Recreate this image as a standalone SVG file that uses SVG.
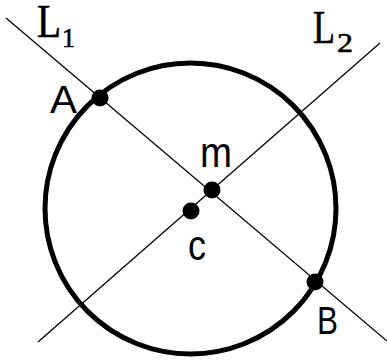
<svg xmlns="http://www.w3.org/2000/svg" width="387" height="362" viewBox="0 0 387 362">
<style>
.line{stroke:#000;stroke-width:1.3;fill:none}
.circ{stroke:#000;stroke-width:5;fill:none}
.dot{fill:#000}
.sans{font-family:"Liberation Sans",Arial,sans-serif;fill:#000}
.serif{font-family:"Liberation Serif","Times New Roman",serif;fill:#000;stroke:#000;stroke-width:0.6}
</style>
<rect width="387" height="362" fill="#fff"/>
<g id="connectors">
<line id="L1-line" class="line" x1="6" y1="18" x2="387" y2="341"/>
<line id="L2-line" class="line" x1="380" y1="43" x2="38" y2="342"/>
</g>
<g id="circle"><circle class="circ" cx="190.5" cy="208.5" r="145.5"/></g>
<g id="A"><circle class="dot" cx="100" cy="98" r="8.5"/><text class="sans" x="50" y="113" font-size="39" textLength="27" lengthAdjust="spacingAndGlyphs">A</text></g>
<g id="B"><circle class="dot" cx="315" cy="282" r="8.5"/><text class="sans" x="317" y="334" font-size="38" textLength="21" lengthAdjust="spacingAndGlyphs">B</text></g>
<g id="m"><circle class="dot" cx="212" cy="190" r="8.5"/><text class="sans" x="200" y="167" font-size="43" textLength="32" lengthAdjust="spacingAndGlyphs">m</text></g>
<g id="c"><circle class="dot" cx="191" cy="211" r="8.5"/><text class="sans" x="188" y="260" font-size="43" textLength="18" lengthAdjust="spacingAndGlyphs">c</text></g>
<g id="L1"><text class="serif" x="37" y="37" font-size="47" textLength="24" lengthAdjust="spacingAndGlyphs">L</text><text class="serif" x="62" y="47" font-size="27" textLength="13" lengthAdjust="spacingAndGlyphs">1</text></g>
<g id="L2"><text class="serif" x="313" y="43" font-size="47" textLength="22" lengthAdjust="spacingAndGlyphs">L</text><text class="serif" x="337" y="52" font-size="28" textLength="16" lengthAdjust="spacingAndGlyphs">2</text></g>
</svg>
